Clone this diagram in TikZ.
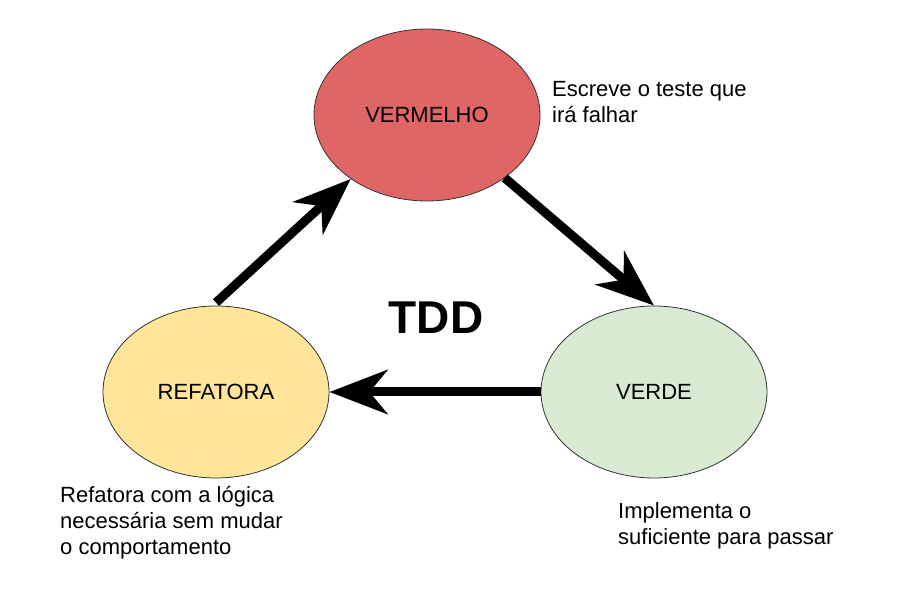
\documentclass[tikz,border=0pt]{standalone}
\usepackage{fontspec}
\setmainfont{Liberation Sans}
\usepackage{tikz}
\usetikzlibrary{shapes.geometric,arrows.meta}

\definecolor{vermelhofill}{HTML}{E06666}
\definecolor{verdefill}{HTML}{D9EAD3}
\definecolor{refatorafill}{HTML}{FFE599}

\begin{document}
\begin{tikzpicture}[x=1pt,y=-1pt]
\tikzstyle{every node}+=[inner sep=0pt]
\tikzstyle{etapa}=[ellipse,draw=black!80,line width=0.8pt,minimum width=226pt,minimum height=172pt,font=\fontsize{22}{26}\selectfont]
\tikzstyle{nota}=[anchor=west,align=left,font=\fontsize{22}{26}\selectfont]
\tikzstyle{seta}=[line width=9pt,-{Stealth[length=58pt,width=44pt,inset=18pt]}]
\useasboundingbox (0,0) rectangle (906,609);
\node [etapa,fill=vermelhofill] (vermelho) at (427,115) {VERMELHO};
\node [etapa,fill=verdefill] (verde) at (654,392) {VERDE};
\node [etapa,fill=refatorafill] (refatora) at (216,392) {REFATORA};
\node [font=\fontsize{46}{50}\selectfont\bfseries] (tdd) at (436,318) {TDD};
\node [nota] (notavermelho) at (552,102) {Escreve o teste que\\irá falhar};
\node [nota] (notaverde) at (618,526) {Implementa o\\suficiente para passar};
\node [nota] (notarefatora) at (60,523) {Refatora com a lógica\\necessária sem mudar\\o comportamento};
\draw [seta] ([yshift=3pt]refatora.north) -- (vermelho.220);
\draw [seta] (vermelho.-39) -- (verde.north);
\draw [seta] (verde.west) -- (refatora.east);
\end{tikzpicture}
\end{document}
